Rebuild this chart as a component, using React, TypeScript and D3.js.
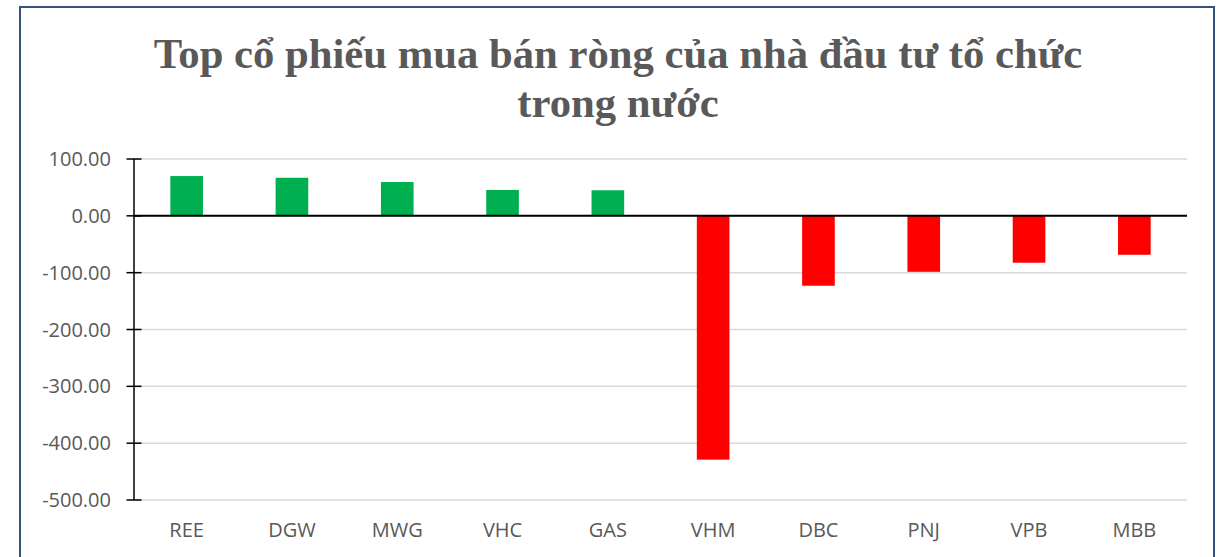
import { useEffect, useRef } from "react"
import { scaleBand, scaleLinear, select } from "d3"

// Data
const categories = ["REE", "DGW", "MWG", "VHC", "GAS", "VHM", "DBC", "PNJ", "VPB", "MBB"]
const netValues = [70, 67, 59.5, 45.5, 45, -429, -123, -98.5, -82.5, -68.5]
const yTicks = [100, 0, -100, -200, -300, -400, -500]
const titleLines = ["Top cổ phiếu mua bán ròng của nhà đầu tư tổ chức", "trong nước"]

export default function App() {
    const svgRef = useRef(null)

    useEffect(() => {
        const width = 1223
        const height = 557
        const plot = { left: 134, right: 1187, top: 159, bottom: 500 }

        const svg = select(svgRef.current)
        svg.selectAll("*").remove()

        svg.append("rect")
            .attr("width", width).attr("height", height)
            .attr("fill", "#ffffff")

        // frame
        svg.append("rect")
            .attr("x", 20).attr("y", 7)
            .attr("width", 1194).attr("height", 560)
            .attr("fill", "none")
            .attr("stroke", "#34527f")
            .attr("stroke-width", 2)

        // title
        svg.selectAll("text.title")
            .data(titleLines)
            .join("text")
            .attr("class", "title")
            .attr("x", 618)
            .attr("y", (_, i) => 68 + i * 49)
            .attr("text-anchor", "middle")
            .style("font-family", "'Liberation Serif', 'Times New Roman', serif")
            .style("font-weight", 700)
            .style("font-size", "42.7px")
            .attr("fill", "#595959")
            .text(d => d)

        const xScale = scaleBand()
            .domain(categories)
            .range([plot.left, plot.right])
            .paddingInner(0.69)
            .paddingOuter(0.345)

        const yScale = scaleLinear()
            .domain([-500, 100])
            .range([plot.bottom, plot.top])

        // gridlines
        svg.append("g")
            .selectAll("line")
            .data(yTicks)
            .join("line")
            .attr("x1", plot.left).attr("x2", plot.right)
            .attr("y1", d => yScale(d)).attr("y2", d => yScale(d))
            .attr("stroke", "#d9d9d9")
            .attr("stroke-width", 1.5)

        // bars
        svg.append("g")
            .selectAll("rect")
            .data(netValues)
            .join("rect")
            .attr("x", (_, i) => xScale(categories[i]))
            .attr("width", xScale.bandwidth())
            .attr("y", d => yScale(Math.max(0, d)))
            .attr("height", d => Math.abs(yScale(d) - yScale(0)))
            .attr("fill", d => d >= 0 ? "#00b050" : "#ff0000")

        // zero line
        svg.append("line")
            .attr("x1", plot.left).attr("x2", plot.right)
            .attr("y1", yScale(0)).attr("y2", yScale(0))
            .attr("stroke", "#000000")
            .attr("stroke-width", 2)

        // y axis + cross ticks
        svg.append("line")
            .attr("x1", plot.left).attr("x2", plot.left)
            .attr("y1", plot.top).attr("y2", plot.bottom)
            .attr("stroke", "#000000")
            .attr("stroke-width", 1.5)

        svg.append("g")
            .selectAll("line")
            .data(yTicks)
            .join("line")
            .attr("x1", plot.left - 7.5).attr("x2", plot.left + 7.5)
            .attr("y1", d => yScale(d)).attr("y2", d => yScale(d))
            .attr("stroke", "#000000")
            .attr("stroke-width", 1.5)

        svg.append("g")
            .selectAll("text")
            .data(yTicks)
            .join("text")
            .attr("x", 111)
            .attr("y", d => yScale(d) + 7)
            .attr("text-anchor", "end")
            .style("font-family", "'Open Sans', sans-serif")
            .style("font-size", "20px")
            .attr("fill", "#595959")
            .text(d => d.toFixed(2))

        // category labels
        svg.append("g")
            .selectAll("text")
            .data(categories)
            .join("text")
            .attr("x", d => xScale(d) + xScale.bandwidth() / 2)
            .attr("y", 537)
            .attr("text-anchor", "middle")
            .style("font-family", "'Open Sans', sans-serif")
            .style("font-size", "20px")
            .attr("fill", "#595959")
            .text(d => d)
    }, [])

    return <svg
        ref={svgRef}
        width={1223}
        height={557}
        style={{ position: "fixed", left: 0, top: 0, display: "block" }}
    />
}
